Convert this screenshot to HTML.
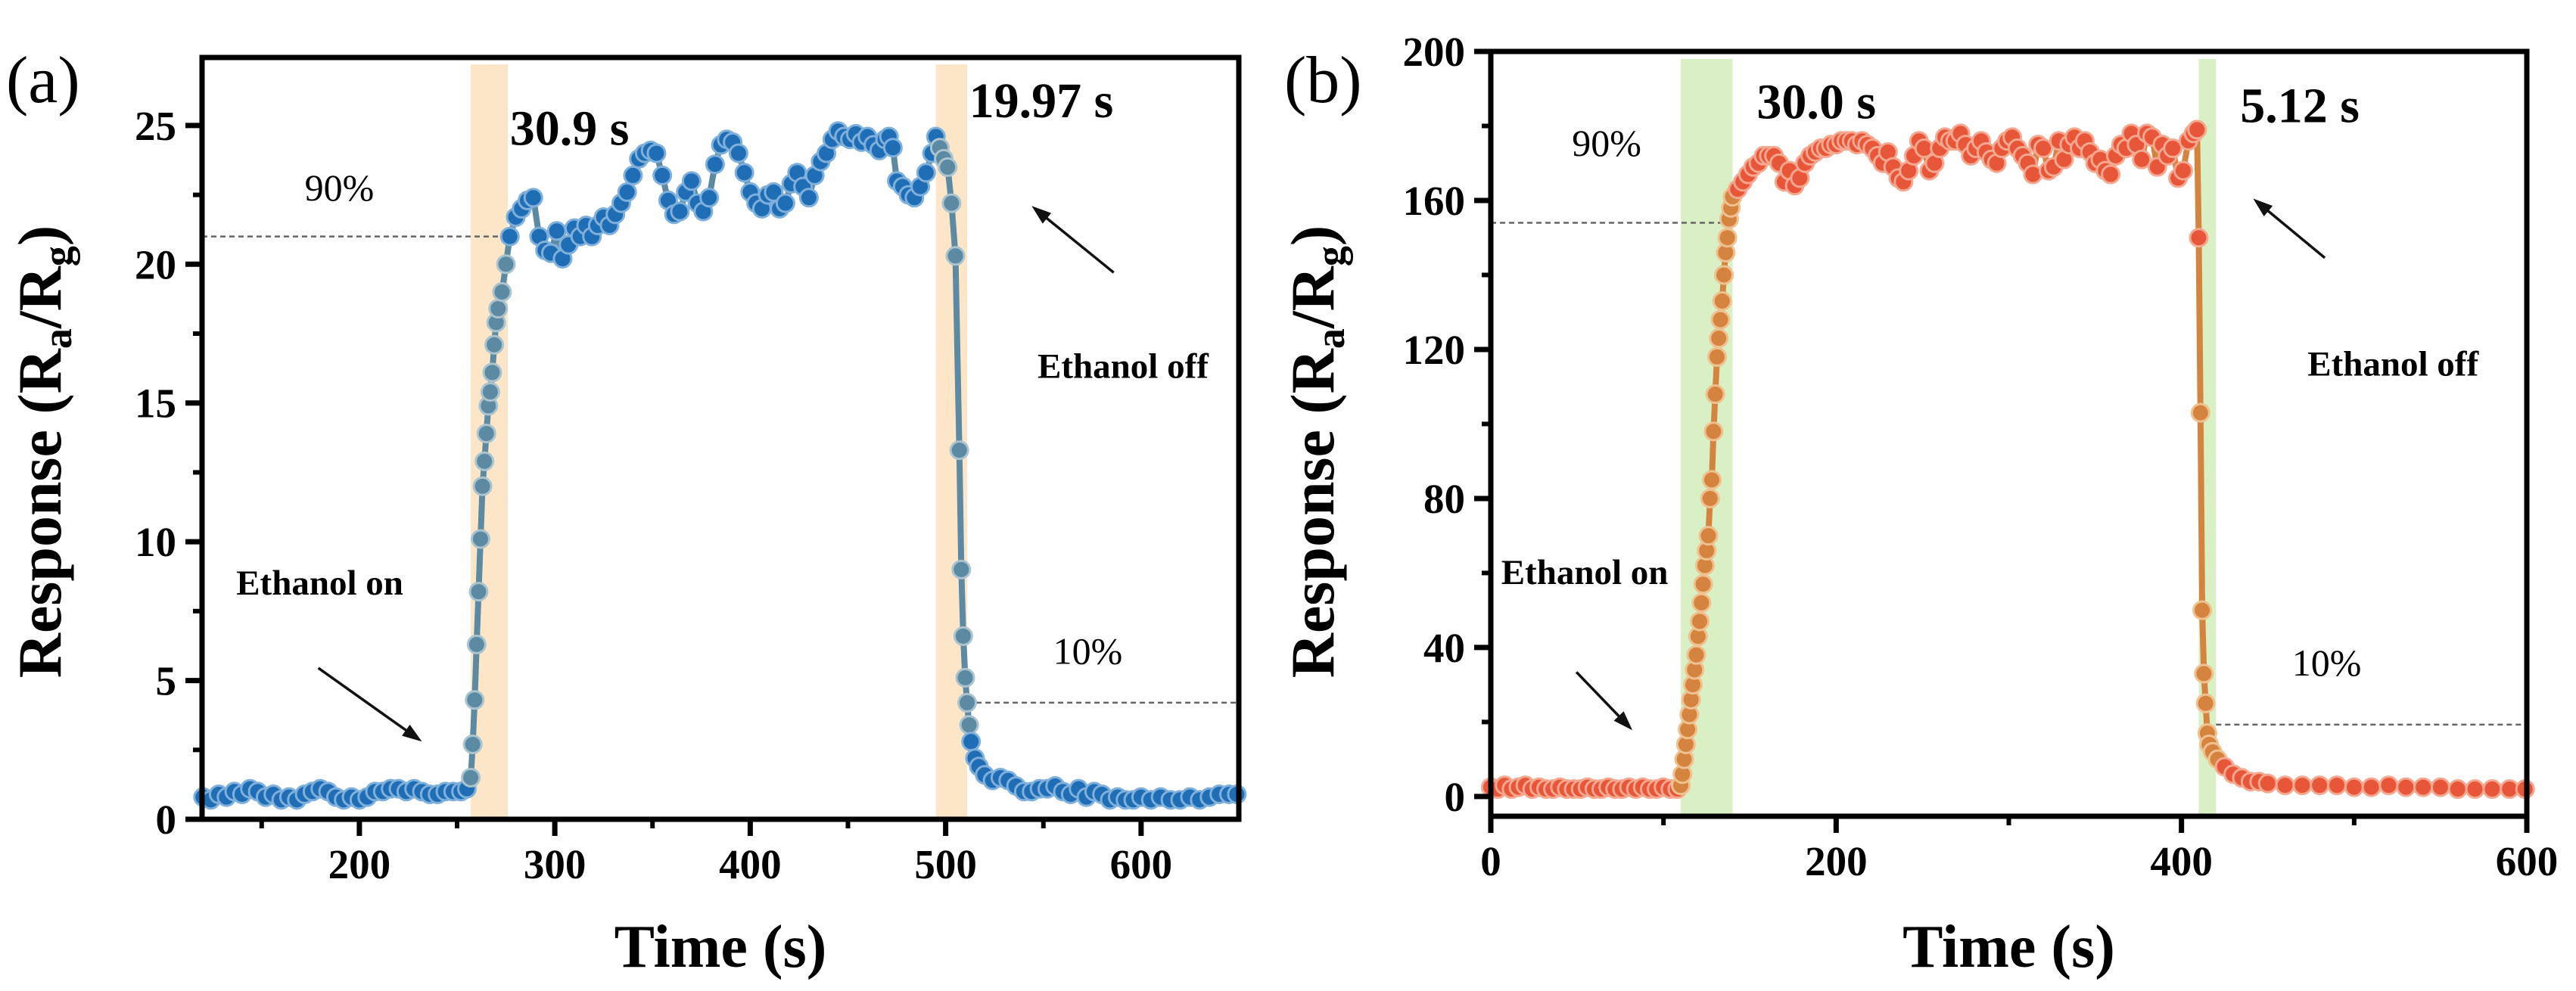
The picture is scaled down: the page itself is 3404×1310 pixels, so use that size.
<!DOCTYPE html>
<html><head><meta charset="utf-8"><style>
html,body{margin:0;padding:0;background:#fff;}
svg{display:block;}
text{font-family:"Liberation Serif",serif;}
</style></head>
<body>
<svg id="fig" width="3404" height="1310" viewBox="0 0 3404 1310" xmlns="http://www.w3.org/2000/svg"></svg>
<script>
// ---------- Panel (a) data ----------
const aTime = [120,124,128,132,136,140,144,148,152,156,160,164,168,172,176,180,184,188,192,196,200,204,208,212,216,220,224,228,232,236,240,244,248,252,255,
257,258,259,260,261,262,263,264,265,266,267,268,269,270,271,273,275,
277,280,283,286,289,292,295,298,301,304,307,310,313,316,319,322,325,328,331,334,337,340,343,346,349,352,355,358,361,364,367,370,373,376,379,382,385,388,391,394,397,400,403,406,409,412,415,418,421,424,427,430,433,436,439,442,445,448,451,454,457,460,463,466,469,471,473,475,478,481,484,487,490,493,495,
497,499,501,503,505,507,508,509,510,511,512,513,515,517,520,524,528,532,536,540,544,548,552,556,560,564,568,572,576,580,584,588,592,596,600,605,610,615,620,625,630,635,640,645,649];
const aResp = [0.8,0.7,0.9,0.8,1.0,0.9,1.1,1.0,0.8,0.9,0.7,0.8,0.7,0.9,1.0,1.1,1.0,0.8,0.7,0.8,0.7,0.8,1.0,1.0,1.1,1.1,1.0,1.1,1.0,0.9,0.9,1.0,1.0,1.0,1.1,
1.5,2.7,4.3,6.3,8.2,10.1,12.0,12.9,13.9,14.9,15.4,16.1,17.1,17.9,18.4,19.0,20.0,
21.0,21.7,22.0,22.3,22.4,21.0,20.5,20.4,21.2,20.2,20.7,21.3,21.0,21.4,21.0,21.4,21.7,21.4,21.8,22.2,22.6,23.2,23.8,24.0,24.1,24.0,23.2,22.3,21.8,21.9,22.6,23.0,22.2,21.9,22.4,23.6,24.3,24.5,24.4,24.0,23.3,22.6,22.2,22.0,22.5,22.6,22.0,22.2,22.9,23.3,22.8,22.4,23.2,23.7,24.0,24.5,24.8,24.6,24.5,24.7,24.4,24.6,24.3,24.1,24.5,24.6,24.2,23.0,22.8,22.5,22.4,22.8,23.3,24.0,24.6,
24.2,23.8,23.5,22.2,20.3,13.3,9.0,6.6,5.1,4.2,3.4,2.8,2.2,1.9,1.6,1.4,1.5,1.4,1.2,1.0,1.0,1.1,1.1,1.2,1.0,0.9,1.1,0.8,1.0,0.9,0.7,0.8,0.7,0.7,0.8,0.7,0.8,0.7,0.7,0.8,0.7,0.8,0.9,0.9,0.9];
const aXTicks = [200,300,400,500,600];
const aYTicks = [0,5,10,15,20,25];
const aBands = [[257,276],[495,511]];
const aLevels = [21.0, 4.2];

// ---------- Panel (b) data ----------
const bTime = [0,4,8,12,16,20,24,28,32,36,40,44,48,52,56,60,64,68,72,76,80,84,88,92,96,100,104,108,
110,111,112,113,114,115,116,117,118,119,120,121,122,123,124,125,126,127,128,129,130,131,132,133,134,135,136,137,138,139,140,
143,146,149,152,155,158,161,164,167,170,173,176,179,182,185,188,191,194,197,200,203,206,209,212,215,218,221,224,227,230,233,236,239,242,245,248,251,254,257,260,263,266,269,272,275,278,281,284,287,290,293,296,299,302,305,308,311,314,317,320,323,326,329,332,335,338,341,344,347,350,353,356,359,362,365,368,371,374,377,380,383,386,389,392,395,398,401,404,407,409,
410,411,412,413,414,415,416,418,421,425,430,435,440,445,450,460,470,480,490,500,510,520,530,540,550,560,570,580,590,599];
const bResp = [2.5,2,3,2,2.5,3,2,2.5,2,2,2.5,2,2,2,2.5,2,2,2.5,2,2,2.5,2,2.5,2,2,2.5,2,2,
3,6,10,14,18,22,26,30,34,38,43,47,52,57,62,66,70,80,85,98,108,118,123,128,133,140,146,150,155,158,161,
163,165,167,169,170,172,172,172,170,165,168,164,166,170,172,173,174,174,175,175,176,176,176,175,176,175,174,172,170,173,169,166,165,168,172,176,174,168,170,174,177,176,176,178,175,172,174,176,173,171,170,174,176,177,174,172,170,167,175,174,168,169,176,171,175,177,174,176,173,170,171,168,167,172,175,174,178,175,171,178,177,169,175,172,174,166,168,176,178,179,
150,103,50,33,25,17,14,12,10,8,6,5,4,4,3.5,3,3,3,3,2.5,2.5,3,2.5,2.5,2.5,2,2,2,2,2];
const bXTicks = [0,200,400,600];
const bYTicks = [0,40,80,120,160,200];
const bBands = [[110,140],[410,420]];
const bLevels = [154, 19.3];

const NS = "http://www.w3.org/2000/svg";
const svg = document.getElementById('fig');
function mk(tag, attrs, parent) {
  const e = document.createElementNS(NS, tag);
  for (const k in attrs) e.setAttribute(k, attrs[k]);
  (parent || svg).appendChild(e);
  return e;
}

function panel(cfg) {
  const g = mk('g', {});
  
  
  const X = v => cfg.L + (v - cfg.x0) / (cfg.x1 - cfg.x0) * (cfg.R - cfg.L);
  const Y = v => cfg.B - (v - cfg.y0) / (cfg.y1 - cfg.y0) * (cfg.B - cfg.T);
  cfg.bands.forEach((b, i) => {
    const r = mk('rect', {x: X(b[0]), y: Y(cfg.bandTop), width: X(b[1]) - X(b[0]), height: cfg.B - Y(cfg.bandTop), fill: cfg.bandColor}, g);
    
    
  });
  const l1 = mk('line', {x1: cfg.L, x2: X(cfg.bands[0][1]), y1: Y(cfg.levels[0]), y2: Y(cfg.levels[0]), stroke: '#666', 'stroke-width': 2.5, 'stroke-dasharray': '7 5'}, g);
  
  
  const l2 = mk('line', {x1: X(cfg.bands[1][1]), x2: cfg.R, y1: Y(cfg.levels[1]), y2: Y(cfg.levels[1]), stroke: '#666', 'stroke-width': 2.5, 'stroke-dasharray': '7 5'}, g);
  
  
  const pts = cfg.t.map((t, i) => X(t) + ',' + Y(cfg.v[i])).join(' ');
  const pl = mk('polyline', {points: pts, fill: 'none', stroke: cfg.lineColor, 'stroke-width': 8, 'stroke-linejoin': 'round'}, g);
  
  
  cfg.t.forEach((t, i) => {
    const trans = (t >= cfg.bands[0][0] - 1 && t <= cfg.bands[0][1]) || (t >= cfg.bands[1][0] + 1 && t <= cfg.bands[1][1] + 1);
    const c = mk('circle', {cx: X(t), cy: Y(cfg.v[i]), r: 11.5, fill: trans ? cfg.transColor : cfg.color, stroke: trans ? cfg.transLight : cfg.light, 'stroke-width': 3}, g);
    
    
  });
  const fr = mk('rect', {x: cfg.L, y: cfg.T, width: cfg.R - cfg.L, height: cfg.B - cfg.T, fill: 'none', stroke: '#000', 'stroke-width': 7}, g);
  
  
  cfg.xticks.forEach(v => {
    const tk = mk('line', {x1: X(v), x2: X(v), y1: cfg.B, y2: cfg.B + 22, stroke: '#000', 'stroke-width': 7}, g);
    
    
    const lb = mk('text', {x: X(v), y: cfg.B + 78, 'font-size': 55, 'font-weight': 'bold', 'text-anchor': 'middle'}, g);
    lb.textContent = v;
    
    
    const mv = v + cfg.xminor;
    if (mv < cfg.x1) {
      const mt = mk('line', {x1: X(mv), x2: X(mv), y1: cfg.B, y2: cfg.B + 12, stroke: '#000', 'stroke-width': 6}, g);
      
      
    }
    const pv = v - cfg.xminor;
    if (pv > cfg.x0 && cfg.xticks.indexOf(pv) < 0 && v === cfg.xticks[0]) {
      const mt2 = mk('line', {x1: X(pv), x2: X(pv), y1: cfg.B, y2: cfg.B + 12, stroke: '#000', 'stroke-width': 6}, g);
      
      
    }
  });
  cfg.yticks.forEach(v => {
    const tk = mk('line', {x1: cfg.L - 22, x2: cfg.L, y1: Y(v), y2: Y(v), stroke: '#000', 'stroke-width': 7}, g);
    
    
    const lb = mk('text', {x: cfg.L - 34, y: Y(v) + 19, 'font-size': 55, 'font-weight': 'bold', 'text-anchor': 'end'}, g);
    lb.textContent = v;
    
    
    const mv = v + cfg.yminor;
    if (mv < cfg.y1) {
      const mt = mk('line', {x1: cfg.L - 12, x2: cfg.L, y1: Y(mv), y2: Y(mv), stroke: '#000', 'stroke-width': 6}, g);
      
      
    }
  });
  const xt = mk('text', {x: (cfg.L + cfg.R) / 2, y: 1278, 'font-size': 80, 'font-weight': 'bold', 'text-anchor': 'middle'}, g);
  xt.textContent = 'Time (s)';
  
  
  const yt = mk('text', {x: 0, y: 0, 'font-size': 82, 'font-weight': 'bold', 'text-anchor': 'middle', transform: 'translate(' + cfg.ytx + ',597) rotate(-90)'}, g);
  yt.innerHTML = 'Response (R<tspan font-size="54" dy="14">a</tspan><tspan dy="-14">/R</tspan><tspan font-size="54" dy="14">g</tspan><tspan dy="-14">)</tspan>';
  
  
  const pl2 = mk('text', {x: cfg.labX, y: 135, 'font-size': 88, 'font-family': '"Liberation Sans", sans-serif'}, g);
  pl2.textContent = cfg.label;
  
  
  cfg.notes.forEach(n => {
    const t = mk('text', {x: X(n[1]), y: Y(n[2]), 'font-size': n[3], 'font-weight': n[4] ? 'bold' : 'normal'}, g);
    t.textContent = n[0];
    
    
  });
  cfg.arrows.forEach((a, i) => {
    const x1 = X(a[0]), y1 = Y(a[1]), x2 = X(a[2]), y2 = Y(a[3]);
    const ang = Math.atan2(y2 - y1, x2 - x1), h = 26, w = 9;
    const ag = mk('g', {}, g);
    
    
    mk('line', {x1: x1, y1: y1, x2: x2 - h * 0.8 * Math.cos(ang), y2: y2 - h * 0.8 * Math.sin(ang), stroke: '#111', 'stroke-width': 3.5}, ag);
    const bx = x2 - h * Math.cos(ang), by = y2 - h * Math.sin(ang);
    mk('polygon', {points: x2 + ',' + y2 + ' ' + (bx - w * Math.sin(ang)) + ',' + (by + w * Math.cos(ang)) + ' ' + (bx + w * Math.sin(ang)) + ',' + (by - w * Math.cos(ang)), fill: '#111'}, ag);
  });
}

panel({name: 'panel-a', label: '(a)', labX: 8, ytx: 80, L: 267, R: 1637, T: 76, B: 1083,
  x0: 119.5, x1: 650, y0: 0, y1: 27.45, xticks: aXTicks, yticks: aYTicks, xminor: 50, yminor: 2.5,
  t: aTime, v: aResp, bands: aBands, bandTop: 27.2, levels: aLevels, bandColor: '#fde6c8',
  color: '#1f6db4', light: '#7fb0dc', transColor: '#5b8aa2', transLight: '#a9c3cf', lineColor: '#5b8aa2',
  notes: [['30.9 s', 277, 24.3, 66, true, 'rise-time-label'], ['19.97 s', 512, 25.3, 66, true, 'recovery-time-label'],
          ['90%', 172, 22.3, 50, false, 'level-90-label'], ['Ethanol off', 547, 15.9, 47, true, 'ethanol-off-label'],
          ['Ethanol on', 137, 8.1, 47, true, 'ethanol-on-label'], ['10%', 555, 5.6, 50, false, 'level-10-label']],
  arrows: [[179, 5.45, 232, 2.8], [586, 19.7, 544, 22.1]]});

panel({name: 'panel-b', label: '(b)', labX: 1697, ytx: 1762, L: 1970, R: 3339, T: 68, B: 1079,
  x0: 0, x1: 600, y0: -5.3, y1: 200, xticks: bXTicks, yticks: bYTicks, xminor: 100, yminor: 20,
  t: bTime, v: bResp, bands: bBands, bandTop: 198, levels: bLevels, bandColor: '#d8f0c4',
  color: '#e8563a', light: '#f5a88f', transColor: '#d4843f', transLight: '#f0c08f', lineColor: '#d4843f',
  notes: [['30.0 s', 154, 182, 66, true, 'rise-time-label'], ['5.12 s', 434, 181, 66, true, 'recovery-time-label'],
          ['90%', 47, 172, 50, false, 'level-90-label'], ['Ethanol off', 473, 113, 47, true, 'ethanol-off-label'],
          ['Ethanol on', 6, 57, 47, true, 'ethanol-on-label'], ['10%', 464, 32.5, 50, false, 'level-10-label']],
  arrows: [[49.6, 33.4, 82, 17.8], [483, 144.6, 441.5, 160.5]]});
</script>
</body></html>
